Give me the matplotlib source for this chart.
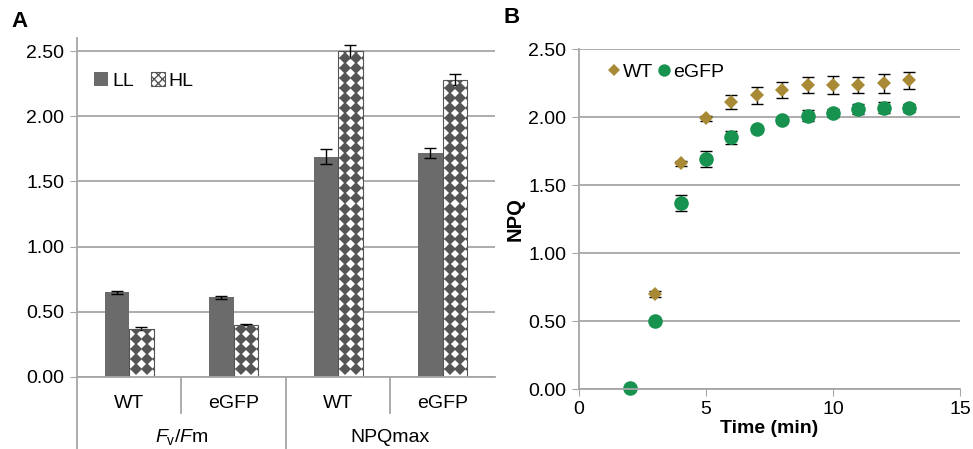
import numpy as np
import matplotlib
matplotlib.use("Agg")
import matplotlib.pyplot as plt
from matplotlib.patches import Patch

plt.rcParams['font.family'] = ['Liberation Sans', 'DejaVu Sans']
plt.rcParams['mathtext.fontset'] = 'custom'
plt.rcParams['mathtext.rm'] = 'Liberation Sans'
plt.rcParams['mathtext.it'] = 'Liberation Sans:italic'

# panel A data
groups = ['WT', 'eGFP', 'WT', 'eGFP']
params = [r'$F_\mathrm{v}/F$m', 'NPQmax']
ll_vals = [0.65, 0.61, 1.69, 1.72]
ll_err = [0.01, 0.01, 0.06, 0.04]
hl_vals = [0.37, 0.40, 2.50, 2.28]
hl_err = [0.01, 0.005, 0.05, 0.04]

# panel B data
t_wt = [3, 4, 5, 6, 7, 8, 9, 10, 11, 12, 13]
npq_wt = [0.70, 1.66, 1.99, 2.11, 2.16, 2.20, 2.235, 2.235, 2.235, 2.25, 2.27]
err_wt = [0.02, 0.02, 0.02, 0.05, 0.06, 0.06, 0.06, 0.065, 0.06, 0.07, 0.06]
t_gfp = [2, 3, 4, 5, 6, 7, 8, 9, 10, 11, 12, 13]
npq_gfp = [0.01, 0.50, 1.37, 1.69, 1.85, 1.91, 1.975, 2.01, 2.03, 2.06, 2.07, 2.07]
err_gfp = [0.0, 0.0, 0.06, 0.06, 0.05, 0.02, 0.02, 0.04, 0.03, 0.04, 0.04, 0.03]

grid_c = '#a6a6a6'
bar_c = '#6b6b6b'
wt_c = '#a88a36'
gfp_c = '#17924f'
fs = 14

fig = plt.figure(figsize=(9.73, 4.49), dpi=100)

# ---------- A ----------
ax = fig.add_axes([0.0791, 0.1604, 0.4296, 0.755])
x = np.arange(len(groups)) + 0.5
w = 0.235
ax.set_xlim(0, 4)
ax.set_ylim(0, 2.6)
ax.set_yticks(np.arange(0, 2.51, 0.5))
ax.set_yticklabels(['%.2f' % v for v in np.arange(0, 2.51, 0.5)], fontsize=fs)
ax.yaxis.grid(True, color=grid_c, lw=1.3)
ax.set_axisbelow(True)
for s in ['top', 'right']:
    ax.spines[s].set_visible(False)
for s in ['left', 'bottom']:
    ax.spines[s].set_color(grid_c)
    ax.spines[s].set_linewidth(1.3)
ax.tick_params(axis='y', length=5, color=grid_c, pad=4)
ax.set_xticks([])

ax.bar(x - w / 2, ll_vals, w, color=bar_c, yerr=ll_err, capsize=4,
       error_kw=dict(lw=1, ecolor='black', capthick=1))
hl = ax.bar(x + w / 2, hl_vals, w, color='white', edgecolor='#555555', lw=0.8,
            yerr=hl_err, capsize=4, error_kw=dict(lw=1, ecolor='black', capthick=1))

# diamond fill pattern inside the HL bars
dx, dy = 0.105, 0.077
for rect in hl:
    x0, h = rect.get_x(), rect.get_height()
    xs = np.arange(x0 + 0.065 - dx, x0 + w + dx, dx)
    ys = np.arange(0.06, h + dy, dy)
    gx, gy = np.meshgrid(xs, ys)
    pts, = ax.plot(gx.ravel(), gy.ravel(), 'D', ms=5.8, color='#555555', mew=0)
    pts.set_clip_path(rect)

# two level category labels
tr = ax.get_xaxis_transform()
for xi, g in zip(x, groups):
    ax.text(xi, -0.078, g, transform=tr, ha='center', va='center', fontsize=fs)
for xi, p in zip([1, 3], params):
    ax.text(xi, -0.178, p, transform=tr, ha='center', va='center', fontsize=fs)
for xb, yb in [(0, -0.215), (1, -0.106), (2, -0.215), (3, -0.106)]:
    ax.plot([xb, xb], [0, yb], transform=tr, color=grid_c, lw=1.3, clip_on=False)

hl_handle = Patch(facecolor='white', edgecolor='#555555', hatch='xxxx', lw=0.8)
ll_handle = Patch(facecolor=bar_c)
ax.legend([ll_handle, hl_handle], ['LL', 'HL'], loc='upper left', bbox_to_anchor=(0.0, 0.95),
          ncol=2, frameon=False, fontsize=fs, handlelength=0.7, handleheight=0.7,
          handletextpad=0.2, columnspacing=0.9)

fig.text(0.012, 0.952, 'A', fontsize=16, fontweight='bold', va='center')

# ---------- B ----------
bx = fig.add_axes([0.595, 0.1336, 0.3916, 0.757])
bx.set_xlim(0, 15)
bx.set_ylim(0, 2.5)
bx.set_xticks([0, 5, 10, 15])
bx.set_xticklabels(['0', '5', '10', '15'], fontsize=fs)
bx.set_yticks(np.arange(0, 2.51, 0.5))
bx.set_yticklabels(['%.2f' % v for v in np.arange(0, 2.51, 0.5)], fontsize=fs)
bx.yaxis.grid(True, color=grid_c, lw=1.3)
bx.set_axisbelow(True)
for s in ['top', 'right']:
    bx.spines[s].set_visible(False)
for s in ['left', 'bottom']:
    bx.spines[s].set_color(grid_c)
    bx.spines[s].set_linewidth(1.3)
bx.tick_params(length=5, color=grid_c)
bx.tick_params(axis='y', pad=4)

bx.errorbar(t_wt, npq_wt, yerr=err_wt, fmt='none', ecolor='black', lw=1, capsize=4, capthick=1)
bx.errorbar(t_gfp, npq_gfp, yerr=err_gfp, fmt='none', ecolor='black', lw=1, capsize=4, capthick=1)
bx.plot(t_wt, npq_wt, 'D', ms=7.5, color=wt_c, mew=0, label='WT', clip_on=False)
bx.plot(t_gfp, npq_gfp, 'o', ms=10.5, color=gfp_c, mew=0, label='eGFP', clip_on=False)
bx.legend(loc='upper left', bbox_to_anchor=(0.03, 1.01), ncol=2, frameon=False, fontsize=fs,
          handlelength=0.6, handletextpad=0.15, columnspacing=0.3, markerscale=0.85)

bx.set_xlabel('Time (min)', fontsize=14, fontweight='bold', va='center')
bx.xaxis.set_label_coords(0.5, -0.115)
bx.set_ylabel('NPQ', fontsize=14.5, fontweight='bold', labelpad=3)

fig.text(0.517, 0.96, 'B', fontsize=16, fontweight='bold', va='center')

fig.savefig('out.png', dpi=100)
